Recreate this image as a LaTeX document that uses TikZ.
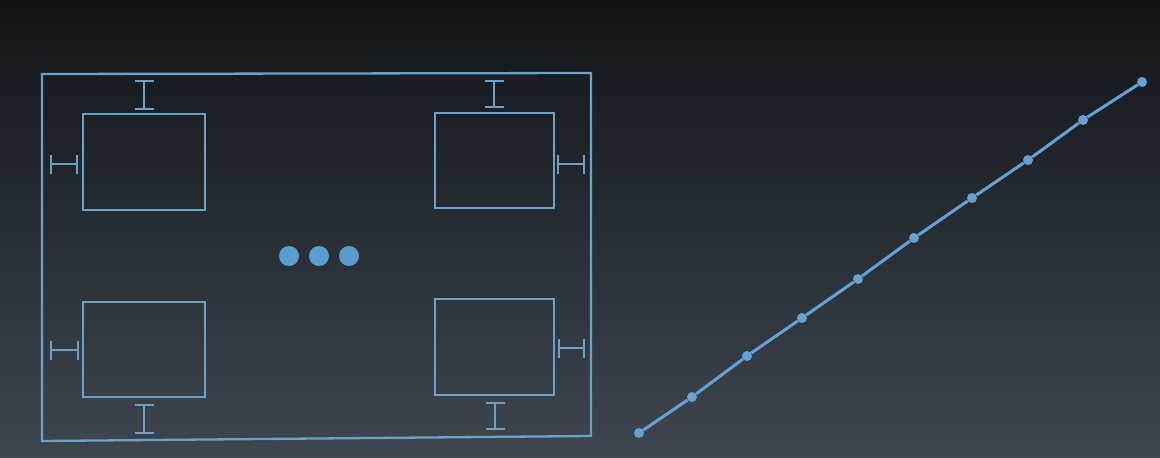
\documentclass[tikz,border=0pt]{standalone}
\usetikzlibrary{arrows.meta}
\definecolor{bgtop}{HTML}{111417}
\definecolor{bgbot}{HTML}{3E464F}
\definecolor{wire}{HTML}{6CA2CA}
\definecolor{dotc}{HTML}{5A9BD0}
\definecolor{linec}{HTML}{64A2D6}
\tikzset{
  box/.style={draw=wire, line width=2.3pt, rectangle, inner sep=0pt},
  frame/.style={draw=wire, line width=2.3pt},
  dimv/.style={draw=wire, line width=2.1pt, {Bar[width=19pt,line width=2.1pt]}-{Bar[width=19pt,line width=2.1pt]}},
  bigdot/.style={circle, fill=dotc, minimum size=20pt, inner sep=0pt},
  pt/.style={circle, fill=linec, minimum size=10pt, inner sep=0pt},
  seg/.style={draw=linec, line width=3pt}
}
\begin{document}
\begin{tikzpicture}[x=1pt,y=-1pt]
\shade[top color=bgtop, bottom color=bgbot] (0,0) rectangle (1160,458);
\useasboundingbox (0,0) rectangle (1160,458);
% outer frame
\coordinate (f1) at (42,74);
\coordinate (f2) at (591,73);
\coordinate (f3) at (591,436);
\coordinate (f4) at (42,441);
\draw[frame] (f1) -- (f2) -- (f3) -- (f4) -- cycle;
% boxes
\node[box, minimum width=122pt, minimum height=96pt] (tl) at (144,162) {};
\node[box, minimum width=119pt, minimum height=95pt] (tr) at (494.5,160.5) {};
\node[box, minimum width=122pt, minimum height=95pt] (bl) at (144,349.5) {};
\node[box, minimum width=119pt, minimum height=96pt] (br) at (494.5,347) {};
% dimension markers
\coordinate (tla) at (144,80); \coordinate (tlb) at (144,110);
\coordinate (tlc) at (50,164); \coordinate (tld) at (78,164);
\coordinate (tra) at (494,80); \coordinate (trb) at (494,108);
\coordinate (trc) at (557,164); \coordinate (trd) at (585,164);
\coordinate (bla) at (50,350); \coordinate (blb) at (79,350);
\coordinate (blc) at (144,404); \coordinate (bld) at (144,434);
\coordinate (bra) at (558,348); \coordinate (brb) at (585,348);
\coordinate (brc) at (495,402); \coordinate (brd) at (495,430);
\draw[dimv] (tla) -- (tlb);
\draw[dimv] (tlc) -- (tld);
\draw[dimv] (tra) -- (trb);
\draw[dimv] (trc) -- (trd);
\draw[dimv] (bla) -- (blb);
\draw[dimv] (blc) -- (bld);
\draw[dimv] (bra) -- (brb);
\draw[dimv] (brc) -- (brd);
% ellipsis dots
\node[bigdot] (d1) at (289,256) {};
\node[bigdot] (d2) at (319,256) {};
\node[bigdot] (d3) at (349,256) {};
% line with points
\node[pt] (p0) at (639,433) {};
\node[pt] (p1) at (692,397) {};
\node[pt] (p2) at (747,356) {};
\node[pt] (p3) at (802,318) {};
\node[pt] (p4) at (858,279) {};
\node[pt] (p5) at (914,238) {};
\node[pt] (p6) at (972,198) {};
\node[pt] (p7) at (1028,160) {};
\node[pt] (p8) at (1083,120) {};
\node[pt] (p9) at (1142,82) {};
\draw[seg] (p0) -- (p1) -- (p2) -- (p3) -- (p4) -- (p5) -- (p6) -- (p7) -- (p8) -- (p9);
\end{tikzpicture}
\end{document}
